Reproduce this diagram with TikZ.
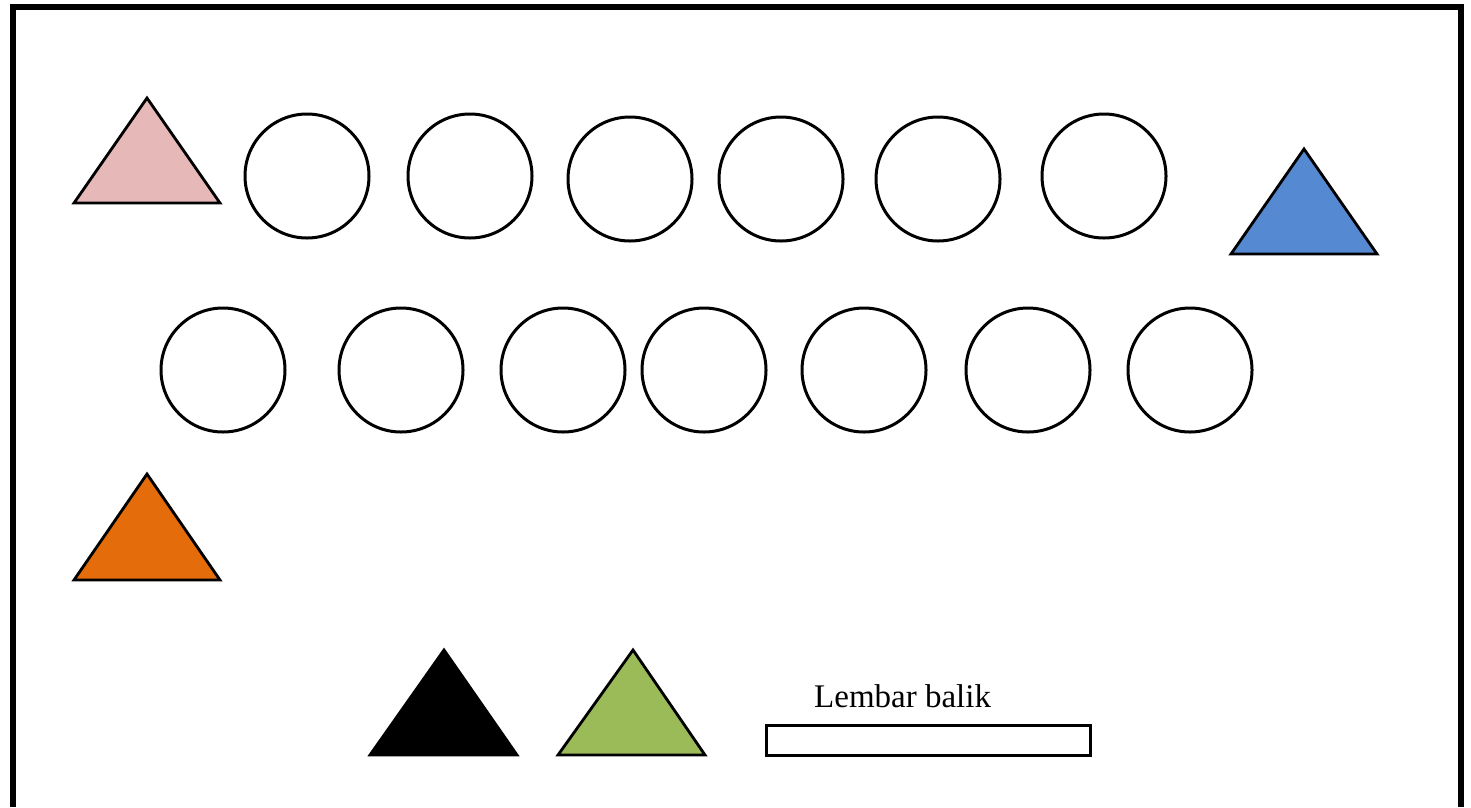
\documentclass[tikz,border=0pt]{standalone}
\usepackage{fontspec}
\setmainfont{Liberation Serif}
\definecolor{tpink}{HTML}{E6B9B8}
\definecolor{tblue}{HTML}{558AD3}
\definecolor{torange}{HTML}{E46C0A}
\definecolor{tgreen}{HTML}{9BBB59}
\tikzset{
  ring/.style={circle, draw=black, line width=3pt, minimum size=124pt, inner sep=0pt, fill=white},
  tri/.style={draw=black, line width=2.8pt, line join=miter},
  frame/.style={draw=black, line width=6pt},
  slip/.style={draw=black, line width=3pt, fill=white},
}
\begin{document}
\begin{tikzpicture}[x=1pt,y=-1pt]
\useasboundingbox (0,0) rectangle (1471,807);
% frame (open at the bottom)
\draw[frame] (13,807) -- (13,7) -- (1460.5,7) -- (1460.5,807);
% triangles
\draw[tri, fill=tpink] (147,98) -- (220,203) -- (74,203) -- cycle;
\draw[tri, fill=tblue] (1304,149) -- (1377,254) -- (1231,254) -- cycle;
\draw[tri, fill=torange] (147,474) -- (220,580) -- (74,580) -- cycle;
\draw[tri, fill=black] (444,650) -- (517,755) -- (370,755) -- cycle;
\draw[tri, fill=tgreen] (633,650) -- (705,755) -- (558,755) -- cycle;
% first row of circles
\node[ring] (a1) at (307,176) {};
\node[ring] (a2) at (470,176) {};
\node[ring] (a3) at (630,179) {};
\node[ring] (a4) at (781,179) {};
\node[ring] (a5) at (938,179) {};
\node[ring] (a6) at (1104,176) {};
% second row of circles
\node[ring] (b1) at (223,370) {};
\node[ring] (b2) at (401,370) {};
\node[ring] (b3) at (563,370) {};
\node[ring] (b4) at (704,370) {};
\node[ring] (b5) at (864,370) {};
\node[ring] (b6) at (1028,370) {};
\node[ring] (b7) at (1190,370) {};
% flip sheet
\draw[slip] (766,725) rectangle (1090,755);
\node[anchor=base west, inner sep=0pt, font=\fontsize{33}{38}\selectfont] (lbl) at (814,707) {Lembar balik};
\end{tikzpicture}
\end{document}
